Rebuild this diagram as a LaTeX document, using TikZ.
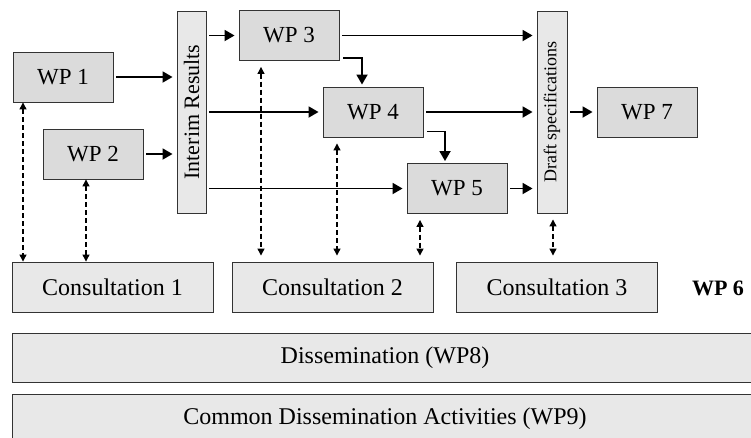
\documentclass[tikz,border=0pt]{standalone}
\usepackage{fontspec}
\setmainfont{Liberation Serif}
\usepackage{tikz}
\usetikzlibrary{arrows.meta,calc}

\begin{document}
\begin{tikzpicture}[x=1pt,y=-1pt,
  wpbox/.style={draw=black!80,line width=0.9pt,fill=black!14,minimum width=100pt,minimum height=50pt,inner sep=0pt,font=\fontsize{23}{27}\selectfont},
  conbox/.style={wpbox,fill=black!9,minimum width=201pt,font=\fontsize{24}{28}\selectfont},
  bar/.style={wpbox,fill=black!9,minimum width=29pt,minimum height=202pt,font=\fontsize{22}{26}\selectfont},
  flow/.style={line width=1.8pt,-{Triangle[length=10pt,width=11pt]},shorten <=3pt,shorten >=4pt},
  consult/.style={line width=1.2pt,dash pattern=on 5pt off 3pt,{Triangle[length=7pt,width=7pt]}-{Triangle[length=7pt,width=7pt]}}]
\useasboundingbox (0,0) rectangle (751,437);
\clip (0,0) rectangle (751,437);
\node[wpbox] (wp1) at (63,77) {WP 1};
\node[wpbox] (wp2) at (93,154) {WP 2};
\node[bar] (interim) at (191.5,112) {\rotatebox{90}{Interim Results}};
\node[wpbox] (wp3) at (289,35.5) {WP 3};
\node[wpbox] (wp4) at (373,112) {WP 4};
\node[wpbox] (wp5) at (457,188.5) {WP 5};
\node[bar,minimum width=30pt,font=\fontsize{18}{22}\selectfont] (draft) at (552,112) {\rotatebox{90}{Draft specifications}};
\node[wpbox] (wp7) at (647,112) {WP 7};
\node[conbox] (con1) at (112.5,287) {Consultation 1};
\node[conbox] (con2) at (332.5,287) {Consultation 2};
\node[conbox] (con3) at (557,287) {Consultation 3};
\node[font=\fontsize{22}{26}\selectfont\bfseries] (wp6) at (718,288) {WP 6};
\node[conbox,minimum width=746pt,minimum height=49pt] (diss) at (385,357.5) {Dissemination (WP8)};
\node[conbox,minimum width=746pt] (common) at (385,419) {Common Dissemination Activities (WP9)};
\draw[flow] (wp1) -- (wp1 -| interim.west);
\draw[flow] (wp2) -- (wp2 -| interim.west);
\draw[flow] (interim.east |- wp3) -- (wp3);
\draw[flow] (interim.east |- wp4) -- (wp4);
\draw[flow] (interim.east |- wp5) -- (wp5);
\draw[flow] (wp3) -- (wp3 -| draft.west);
\draw[flow] (wp4) -- (wp4 -| draft.west);
\draw[flow] (wp5) -- (wp5 -| draft.west);
\draw[flow] (draft) -- (wp7);
\draw[flow,shorten >=2pt] ($(wp3.south east)+(1,-3)$) -| ([xshift=-11pt]wp4.north);
\draw[flow,shorten >=2pt] ($(wp4.south east)+(1,-6)$) -| ([xshift=-12pt]wp5.north);
\foreach \a/\b/\dx/\g in {wp1/con1/-40/0,wp2/con1/-7/0,wp3/con2/-28/6,wp4/con2/-36/6,wp5/con2/-37/6,draft/con3/1/6}{
  \coordinate (top) at ([xshift=\dx pt]\a.south);
  \draw[consult,shorten <=\g pt,shorten >=\g pt] (top) -- (top |- \b.north);
}
\end{tikzpicture}
\end{document}
